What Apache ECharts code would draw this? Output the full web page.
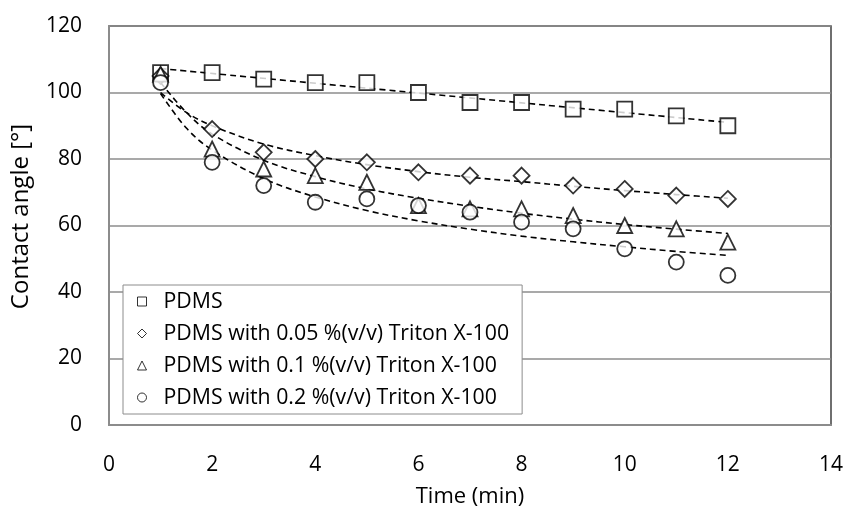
<!DOCTYPE html>
<html>
<head>
<meta charset="utf-8">
<script src="https://cdn.jsdelivr.net/npm/echarts@6/dist/echarts.min.js"></script>
<style>html,body{margin:0;padding:0;background:#fff}#c{width:846px;height:511px}</style>
</head>
<body>
<div id="c"></div>
<script>
// Measured points
var times = [1, 2, 3, 4, 5, 6, 7, 8, 9, 10, 11, 12];
var pdms = [106, 106, 104, 103, 103, 100, 97, 97, 95, 95, 93, 90];
var triton005 = [105, 89, 82, 80, 79, 76, 75, 75, 72, 71, 69, 68];
var triton01 = [105.5, 83, 77, 75, 73, 66, 65, 65, 63, 60, 59, 55];
var triton02 = [103, 79, 72, 67, 68, 66, 64, 61, 59, 53, 49, 45];

// Trendlines
var trendTimesLinear = [1, 12];
var pdmsTrend = [107.2, 91.0];
var trendTimes = [1, 1.5, 2, 3, 4, 5, 6, 7, 8, 9, 10, 11, 12];
var trend005 = [100, 94, 90, 84.5, 81, 78.3, 76.2, 74.5, 73.2, 71.8, 70.5, 69.3, 68.2];
var trend01 = [103, 94, 87.5, 79.6, 74.7, 71.0, 68.2, 65.8, 63.7, 61.9, 60.3, 58.9, 57.6];
var trend02 = [99.7, 89.3, 82.7, 74.1, 68.6, 64.5, 61.4, 58.9, 56.8, 55.1, 53.6, 52.2, 51.0];

var names = ['PDMS', 'PDMS with 0.05 %(v/v) Triton X-100', 'PDMS with 0.1 %(v/v) Triton X-100', 'PDMS with 0.2 %(v/v) Triton X-100'];
var xTicks = [0, 2, 4, 6, 8, 10, 12, 14];
var yTicks = [0, 20, 40, 60, 80, 100, 120];

function pairs(xs, ys) { return xs.map(function (x, i) { return [x, ys[i]]; }); }

var FONT = 'Open Sans';
var markerStyle = { color: '#fff', borderColor: '#000', borderWidth: 1.8 };
function scatter(name, ys, symbol, size) {
  return { name: name, type: 'scatter', data: pairs(times, ys), symbol: symbol, symbolSize: size,
    itemStyle: markerStyle, z: 5 };
}
function trend(xs, ys) {
  return { type: 'line', data: pairs(xs, ys), smooth: 0.35, showSymbol: false, symbol: 'none',
    lineStyle: { color: '#000', width: 1.6, type: [6, 4] }, z: 4, silent: true };
}

var chart = echarts.init(document.getElementById('c'), null, { renderer: 'canvas' });
chart.setOption({
  animation: false,
  backgroundColor: '#fff',
  textStyle: { fontFamily: FONT, color: '#000' },
  grid: { left: 109, right: 15, top: 26, bottom: 86, show: true, borderColor: '#404040', borderWidth: 1.5,
    containLabel: false, outerBoundsMode: 'none' },
  xAxis: {
    type: 'value', min: 0, max: 14, interval: 2,
    name: 'Time (min)', nameLocation: 'middle', nameGap: 61,
    nameTextStyle: { fontFamily: FONT, fontSize: 22, color: '#000' },
    axisLine: { show: true, lineStyle: { color: '#8c8c8c', width: 2 } },
    axisTick: { show: false },
    axisLabel: { margin: 30, fontFamily: FONT, fontSize: 21, color: '#000',
      formatter: function (v) { return xTicks.indexOf(v) >= 0 ? String(v) : ''; } },
    splitLine: { show: false }
  },
  yAxis: {
    type: 'value', min: 0, max: 120, interval: 20,
    name: 'Contact angle [°]', nameLocation: 'middle', nameGap: 76,
    nameTextStyle: { fontFamily: FONT, fontSize: 24, color: '#000', padding: [0, 0, 0, 18] },
    axisLine: { show: true, lineStyle: { color: '#8c8c8c', width: 2 } },
    axisTick: { show: false },
    axisLabel: { margin: 27, fontFamily: FONT, fontSize: 21, color: '#000',
      formatter: function (v) { return yTicks.indexOf(v) >= 0 ? String(v) : ''; } },
    splitLine: { show: true, lineStyle: { color: '#8c8c8c', width: 1.5 } }
  },
  legend: {
    data: names, orient: 'vertical', left: 123, top: 285,
    backgroundColor: '#fff', borderColor: '#8c8c8c', borderWidth: 1,
    padding: [6, 13, 6, 14], itemGap: 11, itemWidth: 9, itemHeight: 9,
    textStyle: { fontFamily: FONT, fontSize: 21.3, color: '#000', padding: [0, 0, 0, 12] },
    itemStyle: { color: '#fff', borderColor: '#000', borderWidth: 1 }
  },
  series: [
    trend(trendTimesLinear, pdmsTrend),
    trend(trendTimes, trend005),
    trend(trendTimes, trend01),
    trend(trendTimes, trend02),
    scatter(names[0], pdms, 'rect', 15),
    scatter(names[1], triton005, 'diamond', 16),
    scatter(names[2], triton01, 'triangle', 15),
    scatter(names[3], triton02, 'circle', 15)
  ]
});
</script>
</body>
</html>
